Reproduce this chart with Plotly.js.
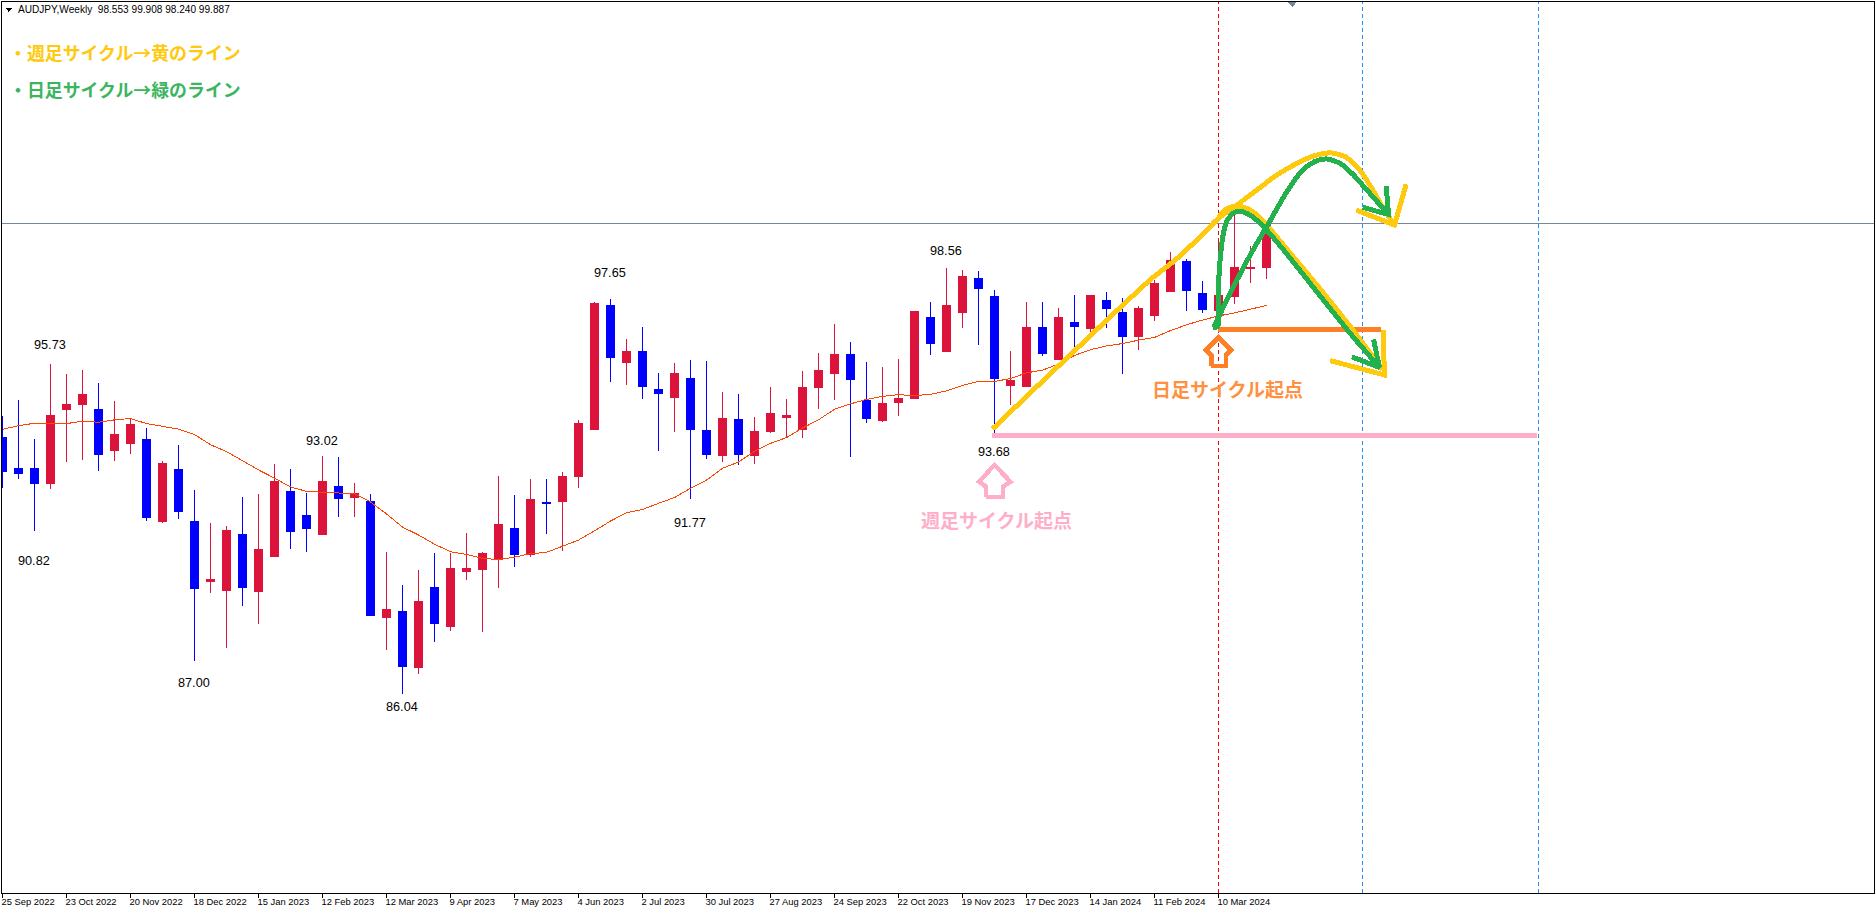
<!DOCTYPE html>
<html><head><meta charset="utf-8">
<script src="https://cdn.plot.ly/plotly-3.0.1.min.js"></script>
<style>html,body{margin:0;padding:0;background:#fff;overflow:hidden}#c{width:1875px;height:909px}#c svg *{shape-rendering:crispEdges}</style>
</head><body><div id="c"></div>
<script>
const openP=[93.56,92.65,92.65,92.22,94.39,94.54,94.38,93.19,93.39,93.50,91.10,92.62,91.12,89.34,89.08,90.71,89.05,90.07,92.00,91.27,90.72,92.12,91.81,91.68,88.28,88.45,86.81,89.18,88.02,89.63,89.69,89.99,90.89,90.13,91.65,91.69,92.42,93.82,97.46,95.77,96.11,94.97,94.74,95.29,93.79,93.04,94.09,93.04,93.74,94.15,93.80,95.04,95.45,96.02,94.67,94.07,94.60,94.71,97.11,96.11,97.24,98.23,97.70,95.11,95.06,96.79,95.85,96.96,96.76,97.58,97.23,96.55,97.14,97.87,98.75,97.79,97.29,97.70,98.52,98.553];
const highP=[94.20,94.67,93.53,95.73,95.44,95.55,95.17,94.64,94.13,93.85,92.87,93.35,92.03,91.06,90.97,91.82,91.91,92.79,92.65,91.94,93.02,93.00,92.24,91.91,90.21,89.24,89.68,90.18,90.18,90.77,90.21,92.44,91.88,92.35,92.35,92.56,94.09,97.55,97.65,96.46,96.82,95.47,95.76,95.85,95.82,94.91,94.85,94.17,95.05,94.70,95.52,96.05,96.90,96.38,95.79,95.64,95.88,97.29,97.55,98.56,98.49,98.46,97.90,96.11,97.55,97.55,97.37,97.76,97.73,97.84,97.67,97.43,98.20,99.02,98.81,98.17,99.32,100.15,99.19,99.908];
const lowP=[92.10,92.36,90.82,92.07,92.86,92.91,92.60,92.89,93.10,91.13,91.07,91.19,87.00,89.02,87.40,88.63,88.11,90.07,90.31,90.22,90.72,91.25,91.25,88.34,87.34,86.04,86.64,87.58,87.90,89.40,87.87,89.16,89.78,90.07,90.75,90.25,92.10,93.79,95.21,95.12,94.71,93.19,93.74,91.77,92.95,92.86,92.77,92.80,93.71,93.57,93.57,94.42,94.68,93.01,94.01,94.04,94.21,94.71,96.00,96.08,96.79,96.29,93.68,94.53,95.06,95.97,95.85,96.17,96.61,96.79,95.44,96.14,96.99,97.87,97.29,97.23,97.25,97.49,98.12,98.24];
const closeP=[92.57,92.51,92.22,94.23,94.53,94.82,93.07,93.67,93.94,91.22,92.82,91.39,89.13,89.39,90.83,89.16,90.27,92.29,90.81,90.90,92.27,91.78,91.94,88.34,88.51,86.84,88.77,88.11,89.74,89.74,90.18,91.03,90.13,91.74,91.62,92.44,93.97,97.52,95.92,96.11,95.06,94.86,95.44,93.80,93.07,94.14,93.07,93.76,94.29,94.23,95.05,95.55,96.02,95.27,94.13,94.56,94.73,97.26,96.33,97.46,98.31,97.94,95.30,95.26,96.79,96.03,97.11,96.82,97.73,97.35,96.55,97.35,98.08,98.78,97.90,97.32,97.73,98.55,98.55,99.887];
const maP=[93.81,93.92,93.99,93.98,93.98,94.05,94.02,94.09,94.13,93.98,93.89,93.82,93.66,93.36,93.16,92.89,92.62,92.38,92.12,91.99,91.97,91.93,91.92,91.68,91.33,90.94,90.71,90.44,90.22,90.14,90.02,89.99,90.06,90.16,90.20,90.38,90.56,90.83,91.12,91.36,91.46,91.64,91.81,92.08,92.32,92.67,92.85,93.17,93.40,93.57,93.85,94.09,94.40,94.56,94.69,94.78,94.83,94.80,94.84,94.94,95.10,95.22,95.22,95.30,95.47,95.55,95.73,95.98,96.15,96.26,96.33,96.43,96.51,96.71,96.88,97.02,97.14,97.23,97.34,97.45];
const barIdx=openP.map((_,i)=>i);

const tickBars=[0,4,8,12,16,20,24,28,32,36,40,44,48,52,56,60,64,68,72,76];
const tickLabels=["25 Sep 2022","23 Oct 2022","20 Nov 2022","18 Dec 2022","15 Jan 2023","12 Feb 2023","12 Mar 2023","9 Apr 2023","7 May 2023","4 Jun 2023","2 Jul 2023","30 Jul 2023","27 Aug 2023","24 Sep 2023","22 Oct 2023","19 Nov 2023","17 Dec 2023","14 Jan 2024","11 Feb 2024","10 Mar 2024"];

const swingBars=[3,2,12,20,25,38,43,59,62];
const swingValues=[95.73,90.82,87.00,93.02,86.04,97.65,91.77,98.56,93.68];

const yellowUpX=[61.87,71.73,73.29,74.86,76.0,77.25,78.40,79.65,80.90,81.94,82.98,83.92,84.75,85.58,86.31,87.00];
const yellowUpY=[93.82,98.20,98.78,99.47,100.01,100.43,100.84,101.28,101.62,101.84,101.93,101.82,101.47,100.89,100.30,99.81];
const yellowUpHeadX=[84.61,87.00,87.73];
const yellowUpHeadY=[100.25,99.81,101.01];
const yellowDownX=[76.0,76.48,76.98,77.52,78.15,78.92,80.06,82.15,84.23,86.25];
const yellowDownY=[100.04,100.27,100.36,100.34,100.20,99.86,99.22,98.05,96.83,95.57];
const yellowDownHeadX=[82.98,86.36,86.31];
const yellowDownHeadY=[95.83,95.41,96.73];
const greenDownX=[75.63,75.96,76.0,76.11,76.31,76.56,76.94,77.40,78.08,78.92,80.06,82.15,84.23,86.06];
const greenDownY=[96.79,96.83,98.00,98.83,99.57,99.96,100.17,100.22,100.07,99.71,99.08,97.85,96.63,95.63];
const greenDownHeadX=[84.33,86.06,85.69];
const greenDownHeadY=[95.94,95.63,96.45];
const greenUpX=[75.69,76.94,77.98,79.23,80.27,81.31,82.15,82.77,83.60,84.44,85.27,86.63];
const greenUpY=[96.81,98.00,98.93,99.94,100.79,101.45,101.70,101.75,101.62,101.28,100.84,100.12];
const greenUpHeadX=[85.02,86.63,86.48];
const greenUpHeadY=[100.33,100.12,100.96];
const dailyStartX=[75.96,86.15];
const dailyStartY=[96.75,96.75];
const weeklyStartX=[61.84,95.9];
const weeklyStartY=[93.64,93.64];
const orangeArrowX=[75.55,75.55,75.21,76,76.79,76.46,76.46,75.55];
const orangeArrowY=[95.67,95.99,96.14,96.51,96.14,95.99,95.67,95.67];
const pinkArrowX=[61.48,61.48,61.04,62,63,62.52,62.52,61.48];
const pinkArrowY=[91.83,92.13,92.27,92.77,92.27,92.13,91.83,91.83];
const markerBars=[76,85,96];
const bidLine=99.86;

const W=1875,H=909,PL=2,PR=1874,PT=2,PB=893;
const YEL='#ffc90e',GRN='#22b14c',ORG='#ff7f27',PNK='#ffaec9';
const px=X=>(X-PL)/(PR-PL), py=Y=>(PB-Y)/(PB-PT);

function line(x,y,color,width,shape){
  return {type:'scatter',mode:'lines',x:x,y:y,hoverinfo:'skip',showlegend:false,
    line:{color:color,width:width,shape:shape||'linear',smoothing:0.6}};
}
const traces=[
 {type:'candlestick',x:barIdx,open:openP,high:highP,low:lowP,close:closeP,showlegend:false,hoverinfo:'skip',
  whiskerwidth:0,
  increasing:{line:{color:'#dc143c',width:1},fillcolor:'#dc143c'},
  decreasing:{line:{color:'#0000ff',width:1},fillcolor:'#0000ff'}},
 line(barIdx,maP,'#ff4500',1),
 line(weeklyStartX,weeklyStartY,PNK,5),
 line(pinkArrowX,pinkArrowY,PNK,4.5),
 line(dailyStartX,dailyStartY,ORG,5),
 line(orangeArrowX,orangeArrowY,ORG,4.5),
 line(yellowUpX,yellowUpY,YEL,5,'spline'),
 line(yellowUpHeadX,yellowUpHeadY,YEL,5),
 line(yellowDownX,yellowDownY,YEL,5,'spline'),
 line(yellowDownHeadX,yellowDownHeadY,YEL,5),
 line(greenDownX,greenDownY,GRN,5,'spline'),
 line(greenDownHeadX,greenDownHeadY,GRN,5),
 line(greenUpX,greenUpY,GRN,5,'spline'),
 line(greenUpHeadX,greenUpHeadY,GRN,5)
];

const swingShift=[19.5,-29.5,-21.5,15.5,-12.5,25.5,-24.5,16.5,-18.5];
const ann=swingBars.map((b,k)=>({x:b,y:swingValues[k],xref:'x',yref:'y',text:swingValues[k].toFixed(2),showarrow:false,
  xshift:-1,yshift:swingShift[k],xanchor:'center',yanchor:'middle',font:{family:'Liberation Sans',size:12.7,color:'#000'}}));
function txt(t,X,Y,anchor,size,color,weight,family){
  ann.push({xref:'paper',yref:'paper',x:px(X),y:py(Y),text:t,showarrow:false,xanchor:anchor,yanchor:'middle',
    font:{family:family||'Noto Sans CJK JP',size:size,color:color,weight:weight||700}});
}
txt('AUDJPY,Weekly  98.553 99.908 98.240 99.887',16,9.5,'left',10.1,'#000',400,'Liberation Sans');
txt('・週足サイクル→黄のライン',7,52,'left',17.9,YEL);
txt('・日足サイクル→緑のライン',7,89,'left',17.9,'#3cb55f');
txt('日足サイクル起点',1227.5,388,'center',19,'#ff9040');
txt('週足サイクル起点',996.5,519,'center',19,PNK);

const shapes=[
 {type:'line',xref:'paper',yref:'y',x0:0,x1:1,y0:bidLine,y1:bidLine,layer:'below',line:{color:'#778899',width:1}},
 {type:'line',xref:'x',yref:'paper',x0:markerBars[0],x1:markerBars[0],y0:0,y1:1,layer:'below',line:{color:'#ff0000',width:1,dash:'4px,3px'}},
 {type:'line',xref:'x',yref:'paper',x0:markerBars[1],x1:markerBars[1],y0:0,y1:1,layer:'below',line:{color:'#1e90ff',width:1,dash:'4px,3px'}},
 {type:'line',xref:'x',yref:'paper',x0:markerBars[2],x1:markerBars[2],y0:0,y1:1,layer:'below',line:{color:'#1e90ff',width:1,dash:'4px,3px'}},
 {type:'path',xref:'paper',yref:'paper',layer:'above',line:{width:0},fillcolor:'#778899',
  path:`M ${px(1287.8)} ${py(2)} L ${px(1296.8)} ${py(2)} L ${px(1292.3)} ${py(7)} Z`},
 {type:'path',xref:'paper',yref:'paper',layer:'above',line:{width:0},fillcolor:'#000',
  path:`M ${px(5.5)} ${py(8)} L ${px(12)} ${py(8)} L ${px(8.75)} ${py(12)} Z`}
];

const layout={
 width:W,height:H,paper_bgcolor:'#fff',plot_bgcolor:'#fff',showlegend:false,
 margin:{l:PL,r:W-PR,t:PT,b:H-PB,pad:0},boxgap:0.33,
 hovermode:false,dragmode:false,
 xaxis:{type:'linear',range:[(PL-2.5)/16,(PR-2.5)/16],tickmode:'array',tickvals:tickBars,ticktext:tickLabels,
   showgrid:false,zeroline:false,showline:true,mirror:true,linecolor:'#000',linewidth:1,
   ticks:'outside',ticklen:4,tickwidth:1,tickcolor:'#000',ticklabelposition:'outside right',tickangle:0,ticklabelshift:-2,
   tickfont:{family:'Liberation Sans',size:9.4,color:'#000'},rangeslider:{visible:false},automargin:false},
 yaxis:{type:'linear',range:[95.73+(364-PB)/34.06,95.73+(364-PT)/34.06],showgrid:false,zeroline:false,
   showline:true,mirror:true,linecolor:'#000',linewidth:1,ticks:'',showticklabels:false,automargin:false},
 annotations:ann,shapes:shapes
};
Plotly.newPlot('c',traces,layout,{displayModeBar:false,staticPlot:true,responsive:false});
</script></body></html>
